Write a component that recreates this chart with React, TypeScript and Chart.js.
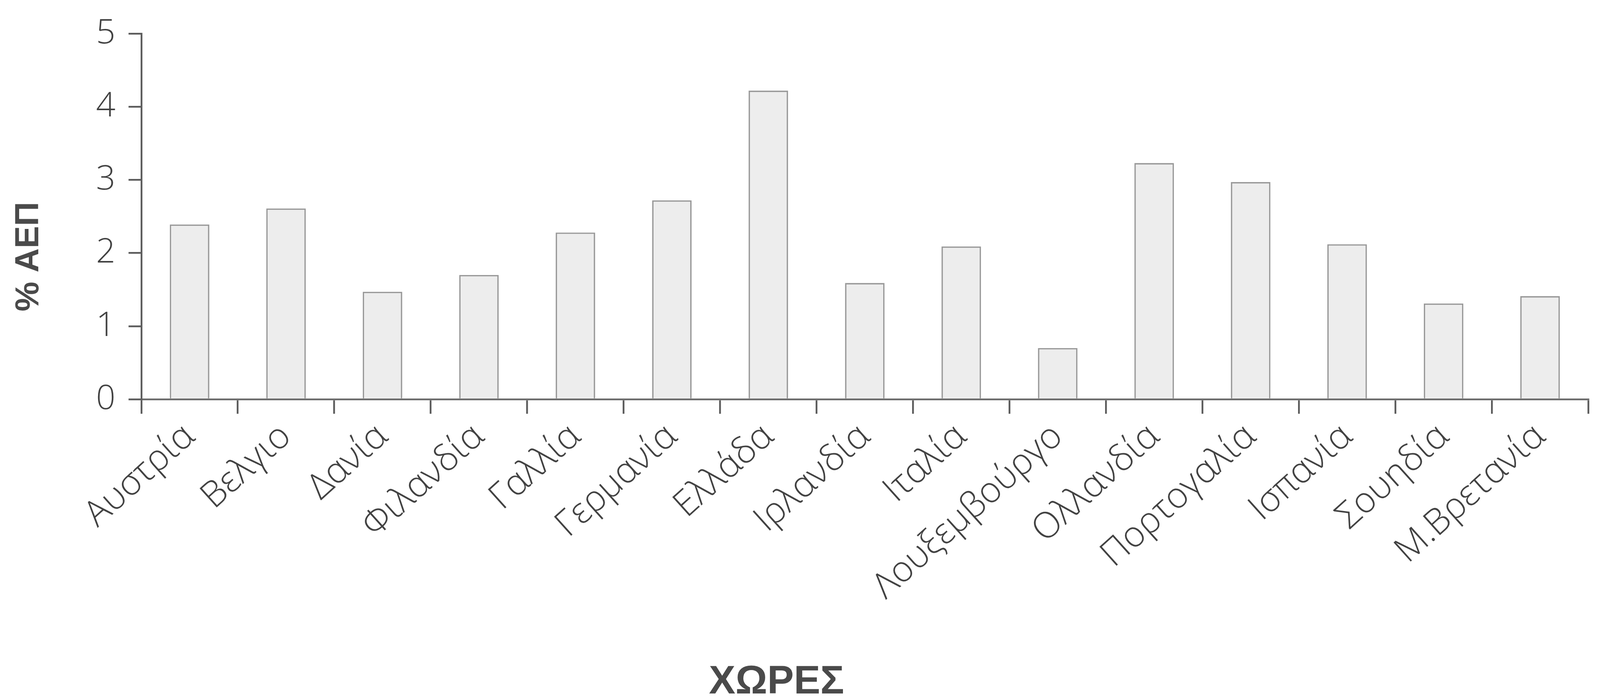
import { useEffect, useRef } from 'react';
import { Chart, registerables } from 'chart.js';

Chart.register(...registerables);

const categories = [
  'Αυστρία',
  'Βελγιο',
  'Δανία',
  'Φιλανδία',
  'Γαλλία',
  'Γερμανία',
  'Ελλάδα',
  'Ιρλανδία',
  'Ιταλία',
  'Λουξεμβούργο',
  'Ολλανδία',
  'Πορτογαλία',
  'Ισπανία',
  'Σουηδία',
  'Μ.Βρετανία',
];
const values = [2.39, 2.61, 1.47, 1.7, 2.28, 2.72, 4.22, 1.59, 2.09, 0.7, 3.23, 2.97, 2.12, 1.31, 1.41];
const yMin = 0;
const yMax = 5;
const yStep = 1;
const yTitle = '% ΑΕΠ';
const xTitle = 'ΧΩΡΕΣ';

export default function App() {
  const ref = useRef<HTMLCanvasElement>(null);
  useEffect(() => {
    document.body.style.margin = '0';
    document.body.style.overflow = 'hidden';
    const W = window.innerWidth;
    const H = window.innerHeight;
    const kx = W / 4506;
    const ky = H / 1784;
    const k = Math.min(kx, ky);

    const titlePlugin = {
      id: 'axisTitlesCustom',
      afterDraw(chart: any) {
        const { ctx, chartArea } = chart;
        const w = chartArea.right - chartArea.left;
        const h = chartArea.bottom - chartArea.top;
        ctx.save();
        ctx.fillStyle = '#4a4a4a';
        ctx.font = `bold ${94 * k}px "Liberation Sans", Arial, sans-serif`;
        ctx.textAlign = 'center';
        ctx.textBaseline = 'middle';
        ctx.save();
        ctx.translate(chartArea.left * 0.205, chartArea.top + h * 0.61);
        ctx.rotate(-Math.PI / 2);
        ctx.fillText(yTitle, 0, 0);
        ctx.restore();
        ctx.font = `bold ${112 * k}px "Liberation Sans", Arial, sans-serif`;
        ctx.textBaseline = 'alphabetic';
        ctx.fillText(xTitle, chartArea.left + w * 0.439, chart.height - 9 * ky);
        ctx.restore();
      },
    };

    const chart = new Chart(ref.current!, {
      type: 'bar',
      data: {
        labels: categories,
        datasets: [
          {
            data: values,
            backgroundColor: '#ededed',
            borderColor: '#999999',
            borderWidth: 4 * k,
            barPercentage: 0.41,
            categoryPercentage: 1,
          },
        ],
      },
      options: {
        animation: false,
        responsive: true,
        maintainAspectRatio: false,
        layout: { padding: { top: 76 * ky, right: 33 * kx, left: 0, bottom: 0 } },
        plugins: { legend: { display: false }, tooltip: { enabled: false } },
        scales: {
          x: {
            grid: {
              offset: true,
              drawOnChartArea: false,
              tickLength: 37 * ky,
              color: '#5c5c5c',
              lineWidth: 5 * k,
            },
            border: { color: '#6a6a6a', width: 5 * k },
            ticks: {
              minRotation: 42,
              maxRotation: 42,
              autoSkip: false,
              color: '#424242',
              font: { family: '"Open Sans", "Noto Sans", sans-serif', size: 101 * k, weight: 300 },
              padding: 4 * ky,
            },
            afterFit: (s: any) => {
              s.height = 762 * ky;
            },
          },
          y: {
            min: yMin,
            max: yMax,
            ticks: {
              stepSize: yStep,
              color: '#424242',
              font: { family: '"Open Sans", "Noto Sans", sans-serif', size: 96 * k, weight: 300 },
              padding: 37 * kx,
            },
            grid: {
              drawOnChartArea: false,
              tickLength: 36 * kx,
              color: '#5c5c5c',
              lineWidth: 5 * k,
            },
            border: { color: '#5c5c5c', width: 5 * k },
            afterFit: (s: any) => {
              s.width = 398 * kx;
            },
          },
        },
      },
      plugins: [titlePlugin],
    });
    return () => chart.destroy();
  }, []);
  return (
    <div style={{ position: 'fixed', left: 0, top: 0, width: '100vw', height: '100vh' }}>
      <canvas ref={ref} />
    </div>
  );
}
